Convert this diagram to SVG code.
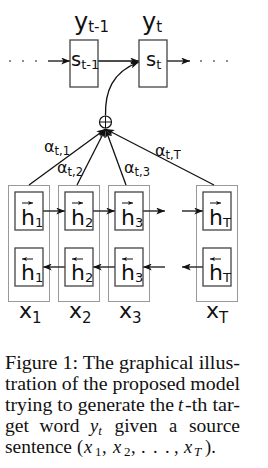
<svg xmlns="http://www.w3.org/2000/svg" width="268" height="468" viewBox="0 0 268 468">
<style>
.d{font-family:"DejaVu Sans",sans-serif;fill:#111}
.cap{font-family:"Liberation Serif","Times New Roman",serif;font-size:18.5px;fill:#111}
.it{font-style:italic}
.box{fill:#fff;stroke:#444;stroke-width:1.3}
.outer{fill:none;stroke:#333;stroke-width:1;stroke-dasharray:1 1}
.ln{fill:none;stroke:#111;stroke-width:1.3}
.sm{fill:none;stroke:#111;stroke-width:1}
.dot{fill:#555}
</style>
<defs>
<marker id="ah" viewBox="0 0 10 8" refX="10" refY="4" markerWidth="9" markerHeight="7" markerUnits="userSpaceOnUse" orient="auto"><path d="M0,0 L10,4 L0,8 L2.5,4 z" fill="#111"/></marker>
<marker id="ahs" viewBox="0 0 10 8" refX="10" refY="4" markerWidth="5" markerHeight="4" markerUnits="userSpaceOnUse" orient="auto"><path d="M0,0 L10,4 L0,8 L2.5,4 z" fill="#111"/></marker>
</defs>

<g id="connectors">
<circle class="dot" cx="10" cy="61" r="0.9"/><circle class="dot" cx="23" cy="61" r="0.9"/><circle class="dot" cx="36" cy="61" r="0.9"/>
<circle class="dot" cx="201" cy="61" r="0.9"/><circle class="dot" cx="214" cy="61" r="0.9"/><circle class="dot" cx="227" cy="61" r="0.9"/>
<path class="ln" d="M48,61 L70,61" marker-end="url(#ah)"/>
<path class="ln" d="M98,61 L139,61" marker-end="url(#ah)"/>
<path class="ln" d="M167,61 L190,61" marker-end="url(#ah)"/>
<path class="ln" d="M105.5,115.5 C105,92 112,72 139,62" marker-end="url(#ah)"/>
<path class="ln" d="M29,185 L105.5,129" marker-end="url(#ah)"/>
<path class="ln" d="M77,185 L105.5,129" marker-end="url(#ah)"/>
<path class="ln" d="M126,185 L105.5,129" marker-end="url(#ah)"/>
<path class="ln" d="M214,185 L105.5,129" marker-end="url(#ah)"/>
<path class="ln" d="M43,211 L65,211" marker-end="url(#ah)"/>
<path class="ln" d="M93,211 L115,211" marker-end="url(#ah)"/>
<path class="ln" d="M143,211 L165,211" marker-end="url(#ah)"/>
<path class="ln" d="M182,211 L203,211" marker-end="url(#ah)"/>
<path class="ln" d="M65,267 L43,267" marker-end="url(#ah)"/>
<path class="ln" d="M115,267 L93,267" marker-end="url(#ah)"/>
<path class="ln" d="M165,267 L143,267" marker-end="url(#ah)"/>
<path class="ln" d="M203,267 L182,267" marker-end="url(#ah)"/>
</g>

<g id="sum">
<circle cx="105.5" cy="122" r="6" fill="#fff" stroke="#111" stroke-width="1.2"/>
<path class="sm" d="M99.5,122 L111.5,122 M105.5,116 L105.5,128"/>
</g>

<g id="s_prev">
<rect class="box" x="70" y="40" width="28" height="47"/>
<text class="d" x="74" y="30" font-size="24">y<tspan font-size="15" dy="2">t-1</tspan></text>
<text class="d" x="71" y="66" font-size="19.5">s<tspan font-size="13" dy="3">t-1</tspan></text>
</g>
<g id="s_t">
<rect class="box" x="139" y="40" width="28" height="47"/>
<text class="d" x="142" y="30" font-size="24">y<tspan font-size="15" dy="2">t</tspan></text>
<text class="d" x="146" y="66" font-size="19.5">s<tspan font-size="13" dy="3">t</tspan></text>
</g>

<g id="alpha_labels" class="d" font-size="16">
<text x="44" y="152">α<tspan font-size="11.5" dy="3">t,1</tspan></text>
<text x="57" y="173">α<tspan font-size="11.5" dy="3">t,2</tspan></text>
<text x="124" y="173">α<tspan font-size="11.5" dy="3">t,3</tspan></text>
<text x="155" y="156">α<tspan font-size="11.5" dy="3">t,T</tspan></text>
</g>

<g id="enc1">
<rect class="outer" x="8.5" y="185.5" width="41" height="116"/>
<rect class="box" x="15" y="192" width="28" height="38"/>
<rect class="box" x="15" y="248" width="28" height="38"/>
<path class="sm" d="M22,203 L33,203" marker-end="url(#ahs)"/>
<path class="sm" d="M33,259 L22,259" marker-end="url(#ahs)"/>
<text class="d" x="21" y="225" font-size="22">h<tspan font-size="13" dy="2">1</tspan></text>
<text class="d" x="21" y="280" font-size="22">h<tspan font-size="13" dy="2">1</tspan></text>
<text class="d" x="19" y="318" font-size="22">x<tspan font-size="15" dy="5">1</tspan></text>
</g>
<g id="enc2">
<rect class="outer" x="58.5" y="185.5" width="41" height="116"/>
<rect class="box" x="65" y="192" width="28" height="38"/>
<rect class="box" x="65" y="248" width="28" height="38"/>
<path class="sm" d="M72,203 L83,203" marker-end="url(#ahs)"/>
<path class="sm" d="M83,259 L72,259" marker-end="url(#ahs)"/>
<text class="d" x="71" y="225" font-size="22">h<tspan font-size="13" dy="2">2</tspan></text>
<text class="d" x="71" y="280" font-size="22">h<tspan font-size="13" dy="2">2</tspan></text>
<text class="d" x="69" y="318" font-size="22">x<tspan font-size="15" dy="5">2</tspan></text>
</g>
<g id="enc3">
<rect class="outer" x="108.5" y="185.5" width="41" height="116"/>
<rect class="box" x="115" y="192" width="28" height="38"/>
<rect class="box" x="115" y="248" width="28" height="38"/>
<path class="sm" d="M122,203 L133,203" marker-end="url(#ahs)"/>
<path class="sm" d="M133,259 L122,259" marker-end="url(#ahs)"/>
<text class="d" x="121" y="225" font-size="22">h<tspan font-size="13" dy="2">3</tspan></text>
<text class="d" x="121" y="280" font-size="22">h<tspan font-size="13" dy="2">3</tspan></text>
<text class="d" x="119" y="318" font-size="22">x<tspan font-size="15" dy="5">3</tspan></text>
</g>
<g id="encT">
<rect class="outer" x="196.5" y="185.5" width="41" height="116"/>
<rect class="box" x="203" y="192" width="28" height="38"/>
<rect class="box" x="203" y="248" width="28" height="38"/>
<path class="sm" d="M210,203 L221,203" marker-end="url(#ahs)"/>
<path class="sm" d="M221,259 L210,259" marker-end="url(#ahs)"/>
<text class="d" x="209" y="225" font-size="22">h<tspan font-size="13" dy="2">T</tspan></text>
<text class="d" x="209" y="280" font-size="22">h<tspan font-size="13" dy="2">T</tspan></text>
<text class="d" x="206" y="318" font-size="22">x<tspan font-size="15" dy="5">T</tspan></text>
</g>

<g id="caption" class="cap">
<text x="5" y="369" textLength="235" lengthAdjust="spacingAndGlyphs">Figure 1:  The graphical illus-</text>
<text x="5" y="390" textLength="235" lengthAdjust="spacingAndGlyphs">tration of the proposed model</text>
<text x="5" y="411" textLength="169" lengthAdjust="spacingAndGlyphs">trying to generate the</text>
<text x="178" y="411" class="it">t</text>
<text x="185" y="411" textLength="55" lengthAdjust="spacingAndGlyphs">-th tar-</text>
<text x="5" y="432" textLength="24" lengthAdjust="spacingAndGlyphs">get</text>
<text x="39.5" y="432" textLength="40" lengthAdjust="spacingAndGlyphs">word</text>
<text x="90" y="432"><tspan class="it">y</tspan><tspan class="it" font-size="13" dy="3">t</tspan></text>
<text x="114.5" y="432" textLength="43" lengthAdjust="spacingAndGlyphs">given</text>
<text x="169" y="432">a</text>
<text x="189" y="432" textLength="51" lengthAdjust="spacingAndGlyphs">source</text>
<text x="5" y="453" textLength="67" lengthAdjust="spacingAndGlyphs">sentence</text>
<text x="77" y="453">(</text>
<text x="84" y="453" class="it">x</text><text x="95" y="456" font-size="13">1</text><text x="102" y="453">,</text>
<text x="113" y="453" class="it">x</text><text x="124" y="456" font-size="13">2</text><text x="131" y="453">,</text>
<text x="141" y="453">.</text><text x="153" y="453">.</text><text x="165" y="453">.</text><text x="174" y="453">,</text>
<text x="184" y="453" class="it">x</text><text x="194" y="456" font-size="13" class="it">T</text>
<text x="205" y="453">).</text>
</g>
</svg>
